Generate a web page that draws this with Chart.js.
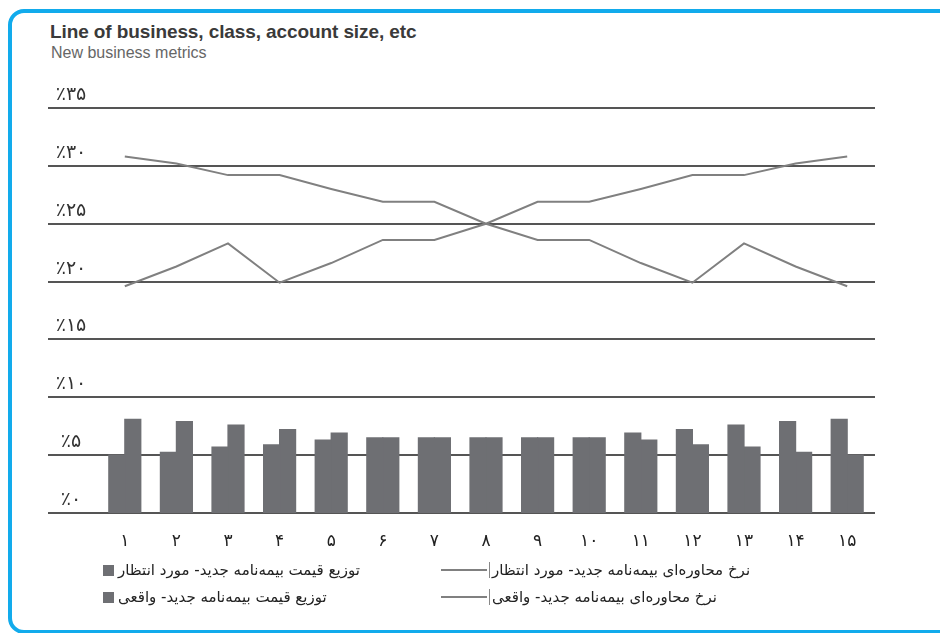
<!DOCTYPE html>
<html>
<head>
<meta charset="utf-8">
<script src="https://cdn.jsdelivr.net/npm/chart.js@4.4.1/dist/chart.umd.min.js"></script>
<style>
  html, body { margin: 0; padding: 0; background: #fff; }
  body { width: 940px; height: 633px; position: relative; overflow: hidden; }
  #frame {
    position: absolute; left: 8px; top: 9px; width: 1000px; height: 625px;
    box-sizing: border-box; border: 4px solid #12abec; border-radius: 16px;
  }
  #title {
    position: absolute; left: 50px; top: 21px;
    font: bold 19px "Liberation Sans", Arial, sans-serif; color: #3a3a3a; letter-spacing: -0.1px;
  }
  #subtitle {
    position: absolute; left: 51px; top: 44px;
    font: 16px "Liberation Sans", Arial, sans-serif; color: #666;
  }
  #chart { position: absolute; left: 0; top: 0; }
  .leg {
    position: absolute; direction: rtl; white-space: nowrap;
    font: 15px "DejaVu Sans", sans-serif; color: #222;
    display: flex; align-items: center;
  }
  .sq { display: inline-block; width: 11px; height: 11px; margin-right: 4px; }
  .ln { display: inline-block; width: 46px; height: 2px; margin-right: 2px; }
  .bar { display: inline-block; width: 1px; height: 16px; background: #888; margin-right: 2px; }
</style>
</head>
<body>
<div id="frame"></div>
<div id="title">Line of business, class, account size, etc</div>
<div id="subtitle">New business metrics</div>
<canvas id="chart" width="940" height="633"></canvas>
<div id="legend"></div>

<script>
// categories and tick labels
const categories = ['۱', '۲', '۳', '۴', '۵', '۶', '۷', '۸', '۹', '۱۰', '۱۱', '۱۲', '۱۳', '۱۴', '۱۵'];
const yTickValues = [0, 5, 10, 15, 20, 25, 30, 35];
const yTickLabels = ['٪۰', '٪۵', '٪۱۰', '٪۱۵', '٪۲۰', '٪۲۵', '٪۳۰', '٪۳۵'];

// bar series (percent)
const priceExpected = [5.0, 5.25, 5.7, 5.9, 6.3, 6.5, 6.5, 6.5, 6.5, 6.5, 6.9, 7.2, 7.6, 7.9, 8.1];
const priceActual = [8.1, 7.9, 7.6, 7.2, 6.9, 6.5, 6.5, 6.5, 6.5, 6.5, 6.3, 5.9, 5.7, 5.25, 5.0];

// line series (percent)
const rateExpected = [30.8, 30.2, 29.2, 29.2, 28.0, 26.9, 26.9, 25.0, 23.6, 23.6, 21.6, 19.9, 23.3, 21.3, 19.6];
const rateActual = [19.6, 21.3, 23.3, 19.9, 21.6, 23.6, 23.6, 25.0, 26.9, 26.9, 28.0, 29.2, 29.2, 30.2, 30.8];

const seriesLabels = [
    'توزیع قیمت بیمه‌نامه جدید- مورد انتظار',
    'توزیع قیمت بیمه‌نامه جدید- واقعی',
    'نرخ محاوره‌ای بیمه‌نامه جدید- مورد انتظار',
    'نرخ محاوره‌ای بیمه‌نامه جدید- واقعی'
];

const barColor = '#6e6f73';
const lineColor = '#808080';
const gridColor = '#555555';

// horizontal rules + percent labels sitting above each rule
const rulesPlugin = {
    id: 'rules',
    beforeDatasetsDraw(chart) {
        const ctx = chart.ctx;
        const y = chart.scales.y;
        ctx.save();
        ctx.strokeStyle = gridColor;
        ctx.lineWidth = 2;
        yTickValues.forEach((v, i) => {
            const py = Math.round(y.getPixelForValue(v));
            ctx.beginPath();
            ctx.moveTo(48, py);
            ctx.lineTo(chart.chartArea.right + 2, py);
            ctx.stroke();

            ctx.fillStyle = '#333';
            ctx.font = '19px "DejaVu Sans", sans-serif';
            ctx.textAlign = 'center';
            ctx.textBaseline = 'bottom';
            ctx.direction = 'ltr';
            ctx.fillText(yTickLabels[i], 71, py - 3);
        });
        ctx.restore();
    }
};

new Chart(document.getElementById('chart'), {
    type: 'bar',
    data: {
        labels: categories,
        datasets: [
            { label: seriesLabels[0], data: priceExpected, backgroundColor: barColor, order: 1,
              barPercentage: 1, categoryPercentage: 0.62, borderWidth: 0, inflateAmount: 0.6 },
            { label: seriesLabels[1], data: priceActual, backgroundColor: barColor, order: 1,
              barPercentage: 1, categoryPercentage: 0.62, borderWidth: 0, inflateAmount: 0.6 },
            { type: 'line', label: seriesLabels[2], data: rateExpected, borderColor: lineColor,
              borderWidth: 2, pointRadius: 0, tension: 0, order: 0 },
            { type: 'line', label: seriesLabels[3], data: rateActual, borderColor: lineColor,
              borderWidth: 2, pointRadius: 0, tension: 0, order: 0 }
        ]
    },
    options: {
        responsive: false,
        animation: false,
        layout: { padding: { left: 99, right: 67, top: 108, bottom: 63.6 } },
        plugins: { legend: { display: false }, tooltip: { enabled: false } },
        scales: {
            x: {
                grid: { display: false, drawTicks: false },
                border: { display: false },
                ticks: { color: '#222', padding: 18, font: { family: 'DejaVu Sans', size: 17 } }
            },
            y: { display: false, min: 0, max: 35 }
        }
    },
    plugins: [rulesPlugin]
});

// legend in two columns, same order as the print
const legend = document.getElementById('legend');
const legendPos = [
    { left: 103, top: 561, kind: 'sq', color: barColor, idx: 0 },
    { left: 103, top: 588, kind: 'sq', color: barColor, idx: 1 },
    { left: 441, top: 561, kind: 'ln', color: lineColor, idx: 2 },
    { left: 441, top: 588, kind: 'ln', color: lineColor, idx: 3 }
];
legendPos.forEach(p => {
    const d = document.createElement('div');
    d.className = 'leg';
    d.style.left = p.left + 'px';
    d.style.top = p.top + 'px';
    let html = `<span>${seriesLabels[p.idx]}</span>`;
    if (p.kind === 'ln') html += `<span class="bar"></span><span class="ln" style="background:${p.color}"></span>`;
    else html += `<span class="sq" style="background:${p.color}"></span>`;
    d.innerHTML = html;
    legend.appendChild(d);
});
</script>
</body>
</html>
